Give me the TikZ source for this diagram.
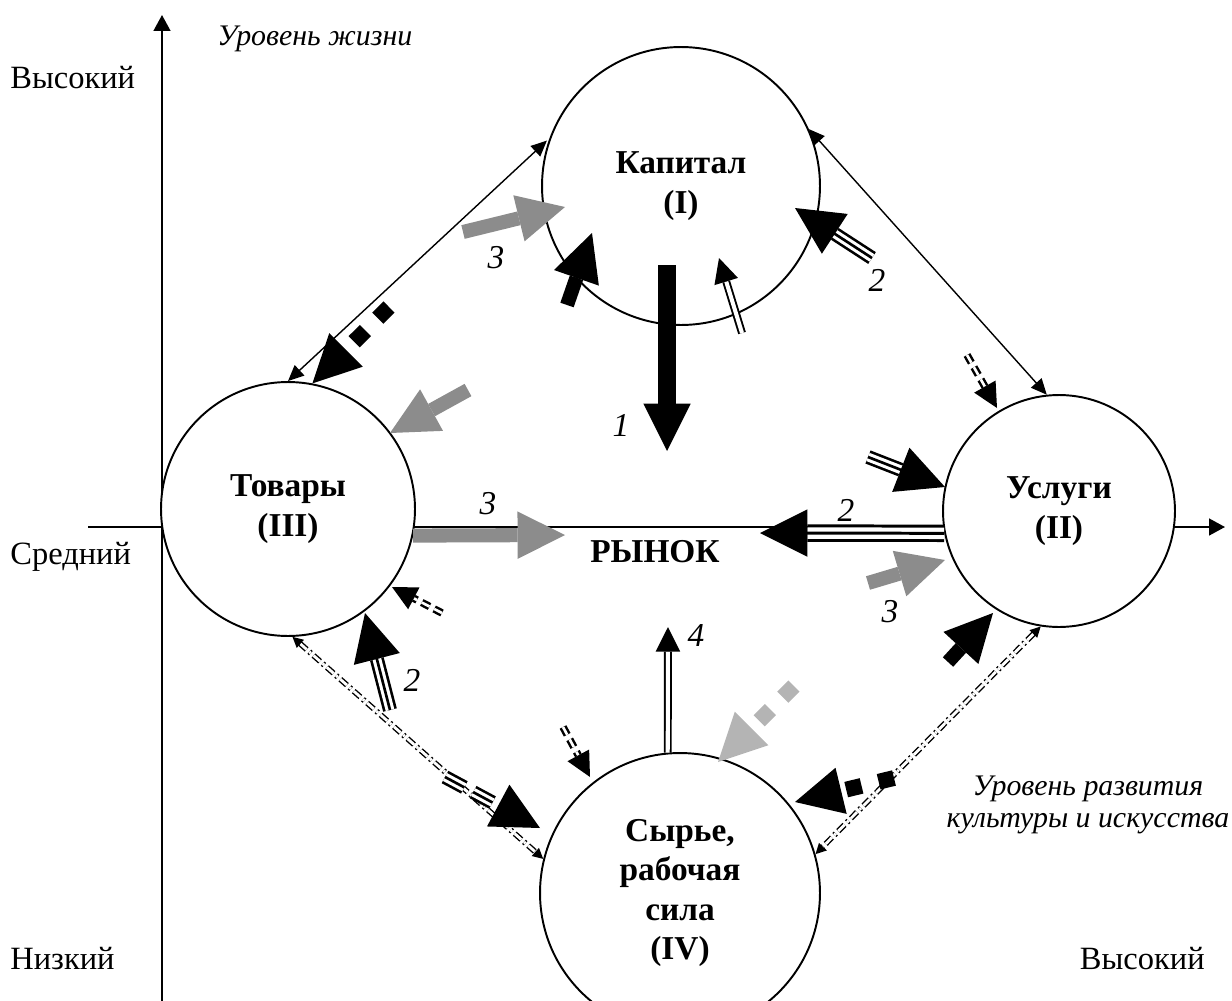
\documentclass[tikz,border=0pt]{standalone}
\usepackage{fontspec}
\setmainfont{Liberation Serif}
\definecolor{midgray}{RGB}{140,140,140}
\definecolor{palegray}{RGB}{180,180,180}
\usetikzlibrary{arrows.meta}
\tikzset{
  sector/.style={circle, draw=black, fill=white, line width=1.1pt, inner sep=0pt, align=center, font=\fontsize{19}{22.5}\selectfont\bfseries},
  axisline/.style={line width=1.1pt, -{Triangle[length=9pt, width=9.5pt]}},
  grade/.style={inner sep=0pt, font=\fontsize{18.5}{19}\selectfont},
  remark/.style={inner sep=0pt, align=center, font=\fontsize{17}{18.7}\selectfont\itshape},
  num/.style={inner sep=0pt, font=\fontsize{19}{22}\selectfont\itshape},
  link/.style={line width=0.8pt, {Triangle[length=9pt, width=8pt]}-{Triangle[length=9pt, width=8pt]}},
  dotlink/.style={line width=0.8pt, double, double distance=1.6pt, dash pattern=on 5pt off 2pt on 1.2pt off 2pt, {Triangle[length=6pt, width=6pt]}-{Triangle[length=6pt, width=6pt]}},
  bigarrow/.style={line width=8pt, -{Triangle[length=27pt, width=27pt, line width=0pt]}},
  grayarrow/.style={bigarrow, draw=midgray},
  squarearrow/.style={line width=9pt, dash pattern=on 9pt off 10pt, -{Triangle[length=27pt, width=27pt, line width=0pt]}},
  triplearrow/.style={line width=1.5pt, double, double distance=5pt, -{Triangle[length=27pt, width=27pt, line width=0pt]}},
  tripleline/.style={line width=1.5pt, shorten >=26pt},
  twinarrow/.style={line width=1.1pt, double, double distance=2.3pt, -{Triangle[length=14pt, width=14pt, line width=0pt]}},
  eqarrow/.style={line width=1.4pt, double, double distance=1.5pt, dash pattern=on 5pt off 3pt, -{Triangle[length=14pt, width=14pt, line width=0pt]}}
}
\begin{document}
\begin{tikzpicture}[x=0.02cm, y=-0.02cm]
  \useasboundingbox (0,0) rectangle (1232,1001);

  % Axes
  \coordinate (yfoot) at (162,1001);
  \coordinate (ytop) at (162,15);
  \coordinate (xfoot) at (88,527);
  \coordinate (xtop) at (1225,527);
  \draw[axisline] (yfoot) -- (ytop);
  \draw[axisline] (xfoot) -- (xtop);

  % Axis labels
  \node[grade, anchor=base west] (hiy) at (10,88) {Высокий};
  \node[grade, anchor=base west] (midy) at (10,564) {Средний};
  \node[grade, anchor=base west] (lowy) at (10,969) {Низкий};
  \node[grade, anchor=base east] (hix) at (1205,969) {Высокий};
  \node[remark, anchor=base west] (life) at (217,45) {Уровень жизни};
  \node[remark] (culture) at (1088,805) {Уровень развития\\культуры и искусства};

  % Sectors
  \node[sector, minimum size=5.56cm] (kap) at (681,186) {Капитал\\(I)};
  \node[sector, minimum size=4.64cm] (usl) at (1059,511) {Услуги\\(II)};
  \node[sector, minimum size=5.08cm] (tov) at (288,509) {Товары\\(III)};
  \node[sector, minimum size=5.6cm] (syr) at (680,893) {Сырье,\\рабочая\\сила\\(IV)};

  % Market
  \node[anchor=base, inner sep=0pt, font=\fontsize{19}{22}\selectfont\bfseries] (market) at (655,562) {РЫНОК};

  % Links between sectors
  \draw[link, shorten >=2pt] (tov.90) -- (kap.160);
  \draw[link] (kap.24) -- (usl.96);
  \draw[dotlink] (tov.-88) -- (syr.166);
  \draw[dotlink] (usl.261) -- (syr.16);

  % Arrows round the capital
  \coordinate (k3a) at (463,232);
  \coordinate (k3b) at (565,207);
  \draw[grayarrow] (k3a) -- (k3b);
  \node[num] (n3k) at (496,258) {3};
  \coordinate (kba) at (567,305);
  \coordinate (kbb) at (592,233);
  \draw[bigarrow] (kba) -- (kbb);
  \coordinate (k1a) at (667,265);
  \coordinate (k1b) at (667,451);
  \draw[bigarrow, line width=10pt] (k1a) -- (k1b);
  \node[num] (n1k) at (621,425) {1};
  \coordinate (kda) at (742,333);
  \coordinate (kdb) at (719,258);
  \draw[twinarrow] (kda) -- (kdb);
  \coordinate (k2a) at (872,258);
  \coordinate (k2b) at (795,208);
  \draw[triplearrow] (k2a) -- (k2b);
  \draw[tripleline] (k2a) -- (k2b);
  \node[num] (n2k) at (877,280) {2};

  % Arrows round the services
  \coordinate (u0a) at (967,355);
  \coordinate (u0b) at (997,408);
  \draw[eqarrow] (u0a) -- (u0b);
  \coordinate (u1a) at (868,457);
  \coordinate (u1b) at (945,487);
  \draw[triplearrow] (u1a) -- (u1b);
  \draw[tripleline] (u1a) -- (u1b);
  \coordinate (u2b) at (760,533);
  \draw[triplearrow, line width=1.7pt, double distance=6.5pt] (usl.191) -- (u2b);
  \draw[tripleline, line width=1.7pt] (usl.191) -- (u2b);
  \node[num] (n2u) at (846,510) {2};
  \coordinate (u3a) at (868,583);
  \coordinate (u3b) at (945,560);
  \draw[grayarrow] (u3a) -- (u3b);
  \node[num] (n3u) at (890,612) {3};
  \coordinate (u4a) at (948,662);
  \coordinate (u4b) at (993,613);
  \draw[bigarrow] (u4a) -- (u4b);

  % Arrows round the goods
  \coordinate (t0a) at (468,390);
  \coordinate (t0b) at (390,433);
  \draw[grayarrow] (t0a) -- (t0b);
  \coordinate (t1a) at (442,613);
  \coordinate (t1b) at (392,587);
  \draw[eqarrow] (t1a) -- (t1b);
  \coordinate (t2a) at (390,710);
  \coordinate (t2b) at (365,613);
  \draw[triplearrow] (t2a) -- (t2b);
  \draw[tripleline] (t2a) -- (t2b);
  \node[num] (n2t) at (412,680) {2};
  \coordinate (t3b) at (565,535);
  \draw[grayarrow] (tov.-12) -- (t3b);
  \node[num] (n3t) at (488,504) {3};
  \coordinate (t4a) at (389,307);
  \draw[squarearrow] (t4a) -- (tov.79);

  % Arrows round the raw materials
  \coordinate (s4b) at (668,627);
  \draw[twinarrow] (syr.95) -- (s4b);
  \node[num] (n4s) at (696,636) {4};
  \coordinate (s0a) at (563,727);
  \coordinate (s0b) at (590,777);
  \draw[eqarrow] (s0a) -- (s0b);
  \coordinate (s1a) at (794,686);
  \coordinate (s1b) at (718,762);
  \draw[squarearrow, draw=palegray] (s1a) -- (s1b);
  \coordinate (s2a) at (894,778);
  \coordinate (s2b) at (795,802);
  \draw[squarearrow] (s2a) -- (s2b);
  \coordinate (s3a) at (445,777);
  \coordinate (s3b) at (540,828);
  \draw[triplearrow, dash pattern=on 12.5pt off 5.7pt] (s3a) -- (s3b);
  \draw[tripleline, dash pattern=on 12.5pt off 5.7pt] (s3a) -- (s3b);
\end{tikzpicture}
\end{document}
